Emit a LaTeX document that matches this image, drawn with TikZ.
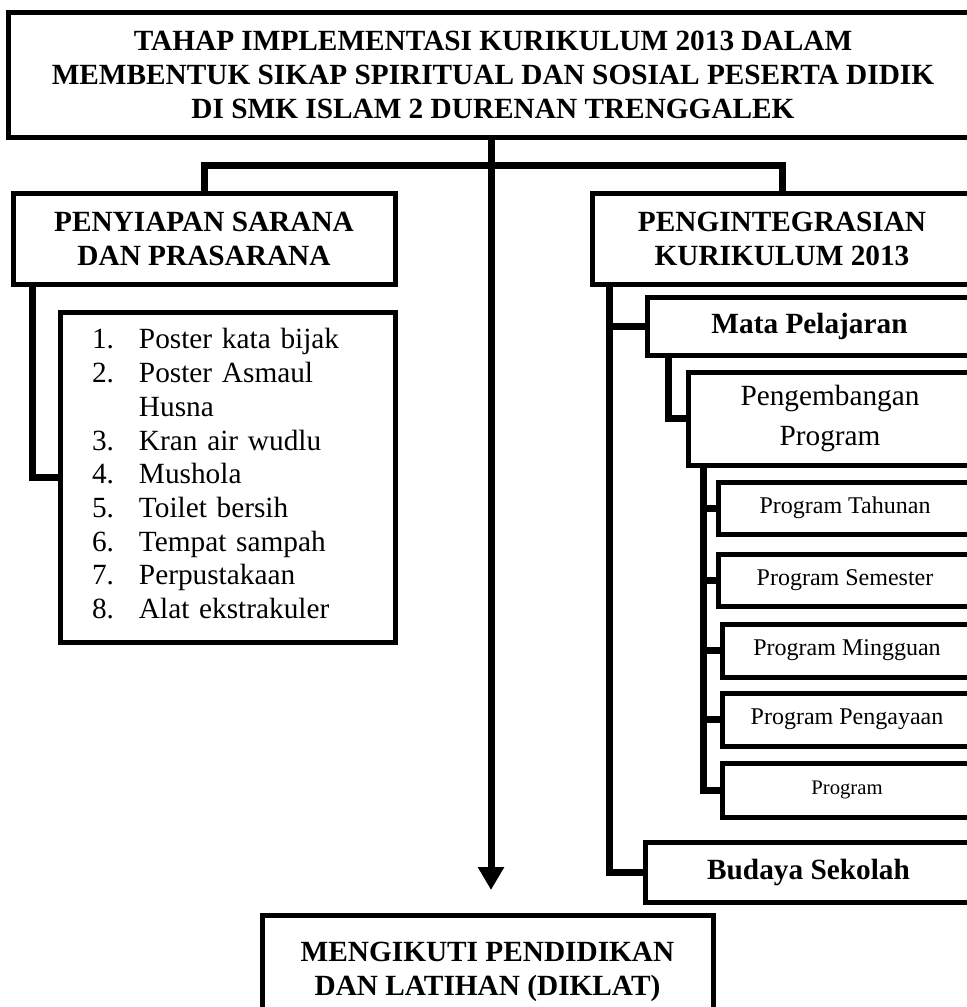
\documentclass[tikz,border=0pt]{standalone}
\usepackage{fontspec}
\setmainfont{Liberation Serif}
\usetikzlibrary{arrows.meta, calc}

\begin{document}
\begin{tikzpicture}[x=1bp, y=-1bp,
  every node/.style={font=\fontsize{29.3bp}{33.5bp}\selectfont},
  kotak/.style={draw, line width=5bp, inner sep=0pt, outer sep=0pt, align=center, anchor=north west},
  judul/.style={kotak, font=\fontsize{29.3bp}{34bp}\selectfont\bfseries},
  tebal/.style={kotak, font=\fontsize{29.3bp}{33.5bp}\selectfont\bfseries},
  biasa/.style={kotak, font=\fontsize{29.3bp}{40bp}\selectfont},
  subkotak/.style={kotak, font=\fontsize{24bp}{28bp}\selectfont},
  garis/.style={line width=7bp},
  panah/.style={garis, -{Triangle[width=25bp, length=23bp]}}
]
  \useasboundingbox (0,0) rectangle (967,1007);
  \clip (0,0) rectangle (967,1007);

  % Macro to draw one box
  % Args: name, style, left, top, right, bottom, text
  \newcommand{\kotakproses}[7]{%
    \pgfmathsetmacro{\lebar}{#5-#3}
    \pgfmathsetmacro{\tinggi}{#6-#4}
    \node[#2, minimum width=\lebar bp, minimum height=\tinggi bp] (#1) at (#3,#4) {#7};
  }

  % Top and bottom
  \kotakproses{tahap}{judul}{8}{12}{978}{137}
    {TAHAP IMPLEMENTASI KURIKULUM 2013 DALAM\\
     MEMBENTUK SIKAP SPIRITUAL DAN SOSIAL PESERTA DIDIK\\
     DI SMK ISLAM 2 DURENAN TRENGGALEK}
  \kotakproses{diklat}{judul}{262}{915}{713}{1028}
    {MENGIKUTI PENDIDIKAN\\ DAN LATIHAN (DIKLAT)}

  % Left branch
  \kotakproses{penyiapan}{judul}{13}{193}{395}{284}
    {PENYIAPAN SARANA\\ DAN PRASARANA}
  \node[kotak, minimum width=335bp, minimum height=330bp, inner xsep=32bp,
        text width=271bp, align=left, font=\fontsize{29.3bp}{33.7bp}\selectfont]
    (sarana) at (60,312) {%
    \begin{tabular}{@{}l@{\hspace{25bp}}l@{}}
      1. & Poster kata bijak\\
      2. & Poster Asmaul\\
         & Husna\\
      3. & Kran air wudlu\\
      4. & Mushola\\
      5. & Toilet bersih\\
      6. & Tempat sampah\\
      7. & Perpustakaan\\
      8. & Alat ekstrakuler
    \end{tabular}};

  % Right branch
  \kotakproses{integrasi}{judul}{592}{193}{972}{284}
    {PENGINTEGRASIAN\\ KURIKULUM 2013}
  \kotakproses{mapel}{tebal}{647}{297}{972}{355}{Mata Pelajaran}
  \kotakproses{pengembangan}{biasa}{688}{372}{972}{465}{Pengembangan\\ Program}
  \kotakproses{tahunan}{subkotak}{718}{482}{972}{534}{Program Tahunan}
  \kotakproses{semester}{subkotak}{718}{554}{972}{606}{Program Semester}
  \kotakproses{mingguan}{subkotak}{722}{624}{972}{677}{Program Mingguan}
  \kotakproses{pengayaan}{subkotak}{722}{693}{972}{746}{Program Pengayaan}
  \kotakproses{program}{subkotak, font=\fontsize{20.7bp}{24bp}\selectfont}{722}{763}{972}{817}{Program}
  \kotakproses{budaya}{tebal}{645}{842}{972}{902}{Budaya Sekolah}

  % Connectors
  \coordinate (ujung) at (491,890);
  \draw[panah] (tahap.south -| ujung) -- (ujung);
  \draw[garis] (penyiapan.north) -- ++(0,-28) -| (integrasi.north);
  \draw[garis] ([xshift=19bp]penyiapan.south west) |- (sarana.west);

  \coordinate (jalur) at ([xshift=17bp]integrasi.south west);
  \draw[garis] (jalur) |- (budaya.west);
  \draw[garis] (mapel.west -| jalur) -- (mapel.west);
  \draw[garis] ([xshift=21bp]mapel.south west) |- (pengembangan.west);

  \coordinate (cabang) at ([xshift=15bp]pengembangan.south west);
  \draw[garis] (cabang) |- (program.west);
  \foreach \prog in {tahunan, semester, mingguan, pengayaan}
    \draw[garis] (\prog.west -| cabang) -- (\prog.west);
\end{tikzpicture}
\end{document}
